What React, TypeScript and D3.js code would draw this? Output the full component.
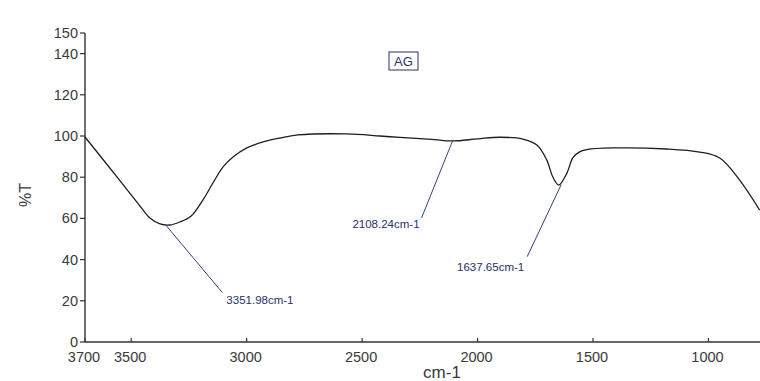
import React, { useEffect, useRef } from 'react';
import * as d3 from 'd3';

// IR spectrum: wavenumber (cm-1) and %T
const wavenumbers = [
  3700, 3548, 3462, 3419, 3375, 3332, 3289, 3240, 3189, 3146, 3102,
  3059, 2999, 2929, 2856, 2778, 2566, 2423, 2336, 2200, 2108, 2000, 1903, 1804,
  1743, 1700, 1674, 1648, 1613, 1587, 1560, 1527, 1414, 1180, 1038, 951, 865, 778,
];
const transmittance = [
  99.5, 78.2, 66.0, 60.2, 57.3, 56.8, 58.3, 61.2, 69.0, 77.2, 85.0,
  89.8, 94.2, 97.1, 99.0, 100.5, 101, 100, 99.3, 98.4, 97.6, 98.6, 99.4, 98.5,
  95.6, 88.3, 80.1, 76.2, 82, 89.5, 92.2, 93.4, 94.2, 93.7, 92.2, 89.3, 78.6, 64,
];

const peakWavenumbers = [3351.98, 2108.24, 1637.65];
const peakTransmittance = [57.0, 97.6, 76.4];

const xTicks = [3700, 3500, 3000, 2500, 2000, 1500, 1000];
const yTicks = [0, 20, 40, 60, 80, 100, 120, 140, 150];

const sampleName = 'AG';

const IRChart = () => {
  const chartRef = useRef<HTMLDivElement>(null);

  useEffect(() => {
    if (!chartRef.current) return;
    const width = 760;
    const height = 381;
    d3.select(chartRef.current).selectAll('*').remove();

    const svg = d3.select(chartRef.current)
      .append('svg')
      .attr('width', width)
      .attr('height', height)
      .style('display', 'block')
      .style('background', 'white')
      .style('font-family', 'Arial, "Liberation Sans", sans-serif');

    const x = d3.scaleLinear().domain([3700, 400]).range([85, 847]);
    const y = d3.scaleLinear().domain([0, 150]).range([342, 33]);

    const axisColor = '#333';
    const labelColor = '#3a3a3a';
    const noteColor = '#27306b';

    // y axis
    svg.append('line')
      .attr('x1', 85).attr('x2', 85)
      .attr('y1', y(150)).attr('y2', y(0))
      .attr('stroke', axisColor).attr('stroke-width', 1.4);
    const yt = svg.append('g');
    yTicks.forEach(t => {
      yt.append('line')
        .attr('x1', 80).attr('x2', 85)
        .attr('y1', y(t)).attr('y2', y(t))
        .attr('stroke', axisColor).attr('stroke-width', 1.2);
      yt.append('text')
        .attr('x', 78).attr('y', y(t) + 5)
        .attr('text-anchor', 'end')
        .attr('font-size', 14.5)
        .attr('fill', labelColor)
        .text(String(t));
    });

    // x axis
    svg.append('line')
      .attr('x1', 85).attr('x2', width)
      .attr('y1', y(0)).attr('y2', y(0))
      .attr('stroke', axisColor).attr('stroke-width', 1.4);
    const xt = svg.append('g');
    xTicks.forEach(t => {
      xt.append('line')
        .attr('x1', x(t)).attr('x2', x(t))
        .attr('y1', y(0) - 4).attr('y2', y(0))
        .attr('stroke', axisColor).attr('stroke-width', 1.2);
      xt.append('text')
        .attr('x', x(t) - 1).attr('y', 362)
        .attr('text-anchor', 'middle')
        .attr('font-size', 14.5)
        .attr('fill', labelColor)
        .text(String(t));
    });

    // axis titles
    svg.append('text')
      .attr('transform', 'translate(31,195) rotate(-90)')
      .attr('text-anchor', 'middle')
      .attr('font-size', 16)
      .attr('fill', labelColor)
      .text('%T');
    svg.append('text')
      .attr('x', 442).attr('y', 378)
      .attr('text-anchor', 'middle')
      .attr('font-size', 17)
      .attr('fill', labelColor)
      .text('cm-1');

    // spectrum
    const points = wavenumbers.map((w, i) => [w, transmittance[i]] as [number, number]);
    const line = d3.line<[number, number]>()
      .x(d => x(d[0]))
      .y(d => y(d[1]))
      .curve(d3.curveCatmullRom.alpha(0.5));
    svg.append('path')
      .datum(points)
      .attr('d', line)
      .attr('fill', 'none')
      .attr('stroke', '#1e1e1e')
      .attr('stroke-width', 1.3);

    // peak labels: leader offset and text placement
    const leaders = [
      { dx: 57, dy: 68, tx: 4, ty: 11, anchor: 'start' },
      { dx: -31, dy: 77, tx: -2, ty: 10, anchor: 'end' },
      { dx: -34, dy: 72, tx: -3, ty: 14, anchor: 'end' },
    ];
    peakWavenumbers.forEach((p, i) => {
      const px = x(p);
      const py = y(peakTransmittance[i]);
      const l = leaders[i];
      svg.append('line')
        .attr('x1', px).attr('y1', py)
        .attr('x2', px + l.dx).attr('y2', py + l.dy)
        .attr('stroke', '#34407a').attr('stroke-width', 1);
      svg.append('text')
        .attr('x', px + l.dx + l.tx).attr('y', py + l.dy + l.ty)
        .attr('text-anchor', l.anchor)
        .attr('font-size', 11.5)
        .attr('fill', noteColor)
        .text(`${p.toFixed(2)}cm-1`);
    });

    // sample name box
    svg.append('rect')
      .attr('x', 389).attr('y', 52)
      .attr('width', 29).attr('height', 18)
      .attr('fill', 'none')
      .attr('stroke', noteColor).attr('stroke-width', 1);
    svg.append('text')
      .attr('x', 403.5).attr('y', 66)
      .attr('text-anchor', 'middle')
      .attr('font-size', 13)
      .attr('fill', noteColor)
      .text(sampleName);
  }, []);

  return <div ref={chartRef} style={{ position: 'absolute', left: 0, top: 0 }}></div>;
};

export default function App() {
  return <IRChart />;
}
